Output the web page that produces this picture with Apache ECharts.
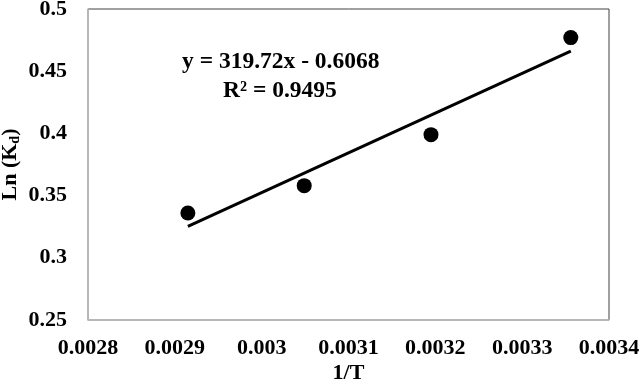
<!DOCTYPE html>
<html><head><meta charset="utf-8">
<script src="https://cdn.jsdelivr.net/npm/echarts@6/dist/echarts.min.js"></script>
<style>html,body{margin:0;padding:0;background:#fff}#c{width:641px;height:384px}</style>
</head><body><div id="c"></div>
<script>
var invT = [0.002915, 0.003049, 0.003195, 0.003356];
var lnKd = [0.336, 0.358, 0.399, 0.477];
var slope = 319.72, intercept = -0.6068;
var xTicks = [0.0028, 0.0029, 0.003, 0.0031, 0.0032, 0.0033, 0.0034];
var yTicks = [0.25, 0.3, 0.35, 0.4, 0.45, 0.5];
var eqText = 'y = 319.72x - 0.6068';
var r2Text = 'R² = 0.9495';

var pts = invT.map(function(x,i){return [x, lnKd[i]];});
var xMin = Math.min.apply(null, invT), xMax = Math.max.apply(null, invT);
var trend = [[xMin, slope*xMin+intercept],[xMax, slope*xMax+intercept]];
var font = '"Liberation Serif","Times New Roman",serif';
var chart = echarts.init(document.getElementById('c'));
chart.setOption({
  animation:false,
  grid:{left:88,top:9,right:32,bottom:64,show:true,borderColor:'#404040',borderWidth:1,
        containLabel:false,outerBoundsMode:'none'},
  xAxis:{type:'value',min:0.0028,max:0.0034,interval:0.0001,
    name:'1/T',nameLocation:'middle',nameGap:42,nameMoveOverlap:false,
    nameTextStyle:{fontFamily:font,fontWeight:'bold',fontSize:22,color:'#000'},
    axisLine:{show:true,lineStyle:{color:'#bfbfbf',width:1.5}},axisTick:{show:false},splitLine:{show:false},
    axisLabel:{fontFamily:font,fontWeight:'bold',fontSize:22,color:'#000',margin:17,
      formatter:function(v){var s=xTicks.find(function(t){return Math.abs(t-v)<1e-9;});return s===undefined?'':String(s);}}},
  yAxis:{type:'value',min:0.25,max:0.5,interval:0.05,
    name:'{a|Ln (K}{s|d}{a|)}',nameLocation:'middle',nameGap:66,nameMoveOverlap:false,
    nameTextStyle:{rich:{a:{fontFamily:font,fontWeight:'bold',fontSize:22,color:'#000'},
      s:{fontFamily:font,fontWeight:'bold',fontSize:14,color:'#000',verticalAlign:'bottom',padding:[9,0,0,0]}}},
    axisLine:{show:true,lineStyle:{color:'#bfbfbf',width:1.5}},axisTick:{show:false},splitLine:{show:false},
    axisLabel:{fontFamily:font,fontWeight:'bold',fontSize:22,color:'#000',margin:21,
      formatter:function(v){var s=yTicks.find(function(t){return Math.abs(t-v)<1e-9;});return s===undefined?'':String(s);}}},
  series:[
    {type:'line',data:trend,symbol:'none',lineStyle:{color:'#000',width:3},z:2},
    {type:'scatter',data:pts,symbol:'circle',symbolSize:15,itemStyle:{color:'#000',opacity:1},z:3}
  ],
  graphic:[
    {type:'text',left:182,top:50,style:{text:eqText,font:'bold 23.5px '+font,fill:'#000'}},
    {type:'text',left:223,top:79,style:{text:r2Text,font:'bold 23.5px '+font,fill:'#000'}}
  ]
});
</script></body></html>
